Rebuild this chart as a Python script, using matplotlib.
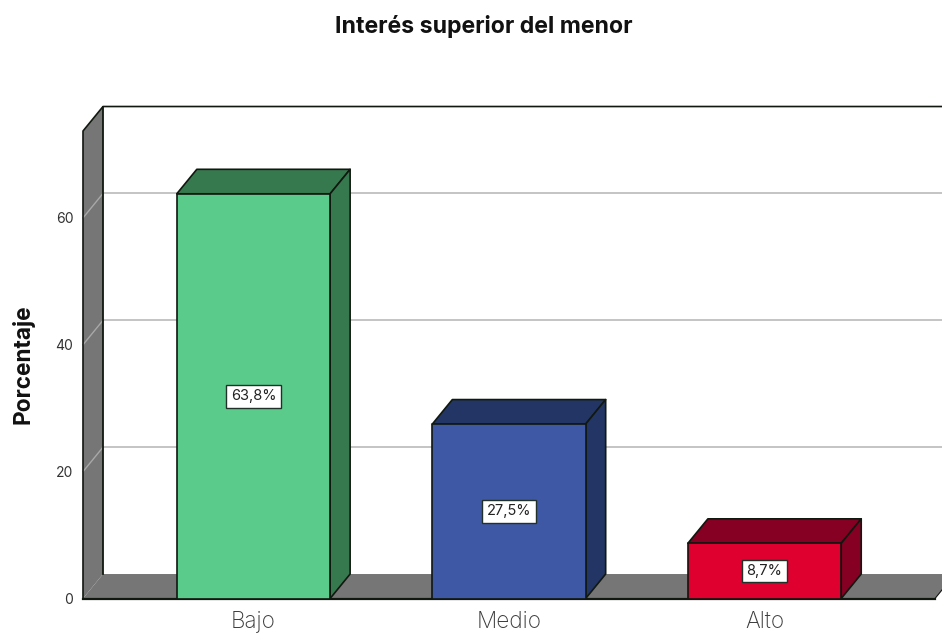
import matplotlib
matplotlib.use("Agg")
import matplotlib.pyplot as plt
from matplotlib.patches import Polygon

plt.rcParams['font.family'] = ['Inter', 'Liberation Sans', 'DejaVu Sans']

categories = ["Bajo", "Medio", "Alto"]
values = [63.8, 27.5, 8.7]
labels = ["63,8%", "27,5%", "8,7%"]
yticks = [0, 20, 40, 60]
front_colors = ["#5BCB8B", "#3F58A6", "#E00030"]
side_colors = ["#37794F", "#233564", "#850022"]
WALL = "#767676"
GRID = "#B4B4B4"
EDGE = "#10180F"

W, H = 942, 635
fig = plt.figure(figsize=(W / 100, H / 100), dpi=100)
ax = fig.add_axes([83 / W, 1 - 598.5 / H, (935 - 83) / W, (598.5 - 131) / H])
xmin, xmax = -0.667, 2.667
ymax = 73.7
ax.set_xlim(xmin, xmax)
ax.set_ylim(0, ymax)
for s in ax.spines.values():
    s.set_visible(False)
ax.patch.set_alpha(0)

dx, dy = 0.0783, 3.86   # oblique depth of the 3D box
bw = 0.6


def poly(pts, fc, ec=EDGE, lw=1.2, z=2):
    p = Polygon(pts, closed=True, facecolor=fc, edgecolor=ec, linewidth=lw,
                joinstyle='round', clip_on=False, zorder=z)
    ax.add_patch(p)


# left wall and floor
poly([(xmin, 0), (xmin + dx, dy), (xmin + dx, ymax + dy), (xmin, ymax)], WALL, ec='none', z=1)
poly([(xmin, 0), (xmax, 0), (xmax + dx, dy), (xmin + dx, dy)], WALL, ec='none', z=1)

# wall outlines (the wall/floor fold has no dark line)
ax.plot([xmin, xmin, xmin + dx, xmax + 2 * dx], [0, ymax, ymax + dy, ymax + dy],
        color=EDGE, lw=1.2, clip_on=False, zorder=1.5)
ax.plot([xmin + dx, xmin + dx], [dy, ymax + dy], color=EDGE, lw=1.3,
        clip_on=False, zorder=1.5)
ax.plot([xmin, xmax], [0, 0], color=EDGE, lw=1.6, clip_on=False, zorder=1.6)
ax.plot([xmax, xmax + dx], [0, dy], color=EDGE, lw=0.8, clip_on=False, zorder=1.6)

# gridlines on back wall and left wall
for t in yticks[1:]:
    ax.plot([xmin + dx, xmax + 2 * dx], [t + dy, t + dy], color=GRID, lw=1.1,
            clip_on=False, zorder=1.2)
    ax.plot([xmin, xmin + dx], [t, t + dy], color="#A8A8A8", lw=1.0,
            clip_on=False, zorder=1.2)

# bars
for i, (v, f, s, l) in enumerate(zip(values, front_colors, side_colors, labels)):
    x0, x1 = i - bw / 2, i + bw / 2
    poly([(x0, v), (x1, v), (x1 + dx, v + dy), (x0 + dx, v + dy)], s, z=3)
    poly([(x1, 0), (x1 + dx, dy), (x1 + dx, v + dy), (x1, v)], s, z=3)
    poly([(x0, 0), (x1, 0), (x1, v), (x0, v)], f, z=3.1)
    ax.text(i, v / 2, l, ha='center', va='center', fontsize=10.5, color="#222222",
            zorder=5,
            bbox=dict(boxstyle='square,pad=0.3', facecolor='white',
                      edgecolor='#22302A', linewidth=1.0))

ax.set_xticks(range(len(categories)))
ax.set_xticklabels(categories, fontsize=16.2, color="#3A3A3A", fontweight='light')
ax.tick_params(axis='x', length=0, pad=9)
ax.set_yticks(yticks)
ax.set_yticklabels([str(t) for t in yticks], fontsize=10, color="#333333")
ax.tick_params(axis='y', length=0, pad=7)

fig.text(23 / W, 1 - 364 / H, "Porcentaje", rotation=90, ha='center', va='center',
         fontsize=16.3, fontweight='bold', color="#111111")
fig.text(484 / W, 1 - 26 / H, "Interés superior del menor", ha='center', va='center',
         fontsize=16.6, fontweight='bold', color="#111111")

fig.savefig("out.png", dpi=100, facecolor='white')
